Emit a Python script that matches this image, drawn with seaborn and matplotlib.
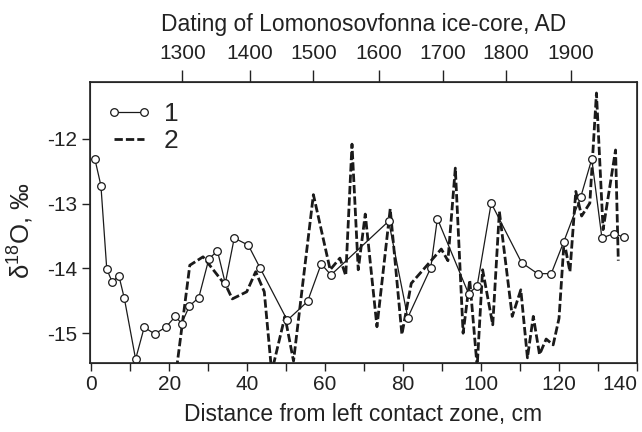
import matplotlib
matplotlib.use("Agg")
import matplotlib.pyplot as plt
import seaborn as sns
import pandas as pd
from matplotlib.ticker import MultipleLocator

# Series 1 (circles): distance (cm) and delta18O
s1_x = [0.95, 2.5, 4.0, 5.4, 7.1, 8.5, 11.4, 13.6, 16.3, 19.1, 21.6, 23.2, 25.2, 27.6,
        30.2, 32.4, 34.4, 36.7, 40.3, 43.3, 50.3, 55.5, 59.0, 61.5, 76.3, 81.2, 87.1,
        88.8, 96.8, 99.0, 102.6, 110.4, 114.5, 118.0, 121.2, 125.6, 128.4, 131.0,
        134.1, 136.7]
s1_y = [-12.31, -12.72, -14.01, -14.21, -14.11, -14.46, -15.40, -14.91, -15.01, -14.91,
        -14.74, -14.85, -14.58, -14.45, -13.85, -13.73, -14.23, -13.53, -13.64, -13.99,
        -14.80, -14.51, -13.93, -14.10, -13.27, -14.76, -13.99, -13.23, -14.39, -14.27,
        -12.99, -13.91, -14.08, -14.08, -13.59, -12.89, -12.31, -13.53, -13.46, -13.52]

# Series 2 (dashed)
s2_x = [21.9, 25.3, 28.7, 34.7, 36.2, 39.9, 42.2, 44.4, 46.3, 49.7, 51.9, 57.0, 61.3,
        63.8, 65.3, 66.9, 68.5, 70.3, 73.3, 76.7, 79.7, 82.1, 89.8, 91.5, 93.4, 95.4,
        97.1, 99.0, 100.4, 103.0, 104.7, 108.0, 110.2, 111.9, 113.4, 115.0, 116.7,
        118.5, 120.0, 121.3, 122.8, 124.3, 125.8, 127.9, 129.6, 131.3, 134.5, 135.2]
s2_y = [-15.55, -13.95, -13.82, -14.28, -14.47, -14.36, -14.05, -14.36, -15.60, -14.74,
        -15.43, -12.86, -14.02, -13.84, -14.11, -12.08, -14.02, -13.16, -14.90, -13.08,
        -15.02, -14.23, -13.70, -13.88, -12.45, -15.00, -14.18, -15.52, -14.02, -14.87,
        -13.12, -14.74, -14.33, -15.38, -14.74, -15.33, -15.09, -15.18, -14.77, -13.58,
        -14.05, -12.81, -13.19, -12.99, -11.29, -13.40, -12.17, -13.88]

# Top axis (dating) tick positions in cm and their years
top_tick_cm = [23.4, 40.8, 57.0, 73.7, 90.2, 106.3, 123.1]
top_tick_years = ["1300", "1400", "1500", "1600", "1700", "1800", "1900"]

y_ticks = [-12, -13, -14, -15]
x_ticks = [0, 20, 40, 60, 80, 100, 120, 140]

sns.set_style("ticks")
plt.rcParams['font.family'] = ['Liberation Sans', 'DejaVu Sans']
plt.rcParams['mathtext.fontset'] = 'custom'
plt.rcParams['mathtext.rm'] = 'Liberation Sans'

INK = "#222222"
fig = plt.figure(figsize=(6.42, 4.32), dpi=100)
ax = fig.add_axes([90/642, 1 - 363/432, (637 - 90)/642, (363 - 82)/432])

df1 = pd.DataFrame({"x": s1_x, "y": s1_y})
df2 = pd.DataFrame({"x": s2_x, "y": s2_y})

sns.lineplot(data=df2, x="x", y="y", ax=ax, color="#1a1a1a", linewidth=2.0,
             linestyle=(0, (3.0, 1.1)), estimator=None, sort=False, label="2")
sns.lineplot(data=df1, x="x", y="y", ax=ax, color="#1a1a1a", linewidth=0.9,
             marker="o", markersize=5.5, markerfacecolor="white",
             markeredgecolor="#1a1a1a", markeredgewidth=0.9,
             estimator=None, sort=False, label="1")

ax.set_xlim(-0.3, 140)
ax.set_ylim(-15.46, -11.12)
ax.set_xticks(x_ticks)
ax.set_xticklabels([str(v) for v in x_ticks])
ax.xaxis.set_minor_locator(MultipleLocator(10))
ax.set_yticks(y_ticks)
ax.set_yticklabels([str(v) for v in y_ticks])
ax.tick_params(axis='both', which='major', labelsize=15, direction='out',
               length=6, width=1.0, color=INK, labelcolor=INK)
ax.tick_params(axis='x', which='minor', direction='out', length=6, width=1.0,
               color=INK)
ax.tick_params(axis='y', pad=3)
ax.tick_params(axis='x', pad=3)
# keep the last bottom label inside the figure
ax.get_xticklabels()[-1].set_horizontalalignment('right')
ax.get_xticklabels()[-1].set_x(140)

ax.set_xlabel("Distance from left contact zone, cm", fontsize=16.5, color=INK,
              labelpad=6)
ax.set_ylabel(r"$\mathregular{δ^{18}}$O, ‰", fontsize=18.5, color=INK)
ax.yaxis.set_label_coords(-0.098, 0.47)
for sp in ax.spines.values():
    sp.set_visible(True)
    sp.set_linewidth(1.2)
    sp.set_color(INK)

ax2 = ax.twiny()
ax2.set_xlim(ax.get_xlim())
ax2.set_xticks(top_tick_cm)
ax2.set_xticklabels(top_tick_years)
ax2.tick_params(axis='x', direction='out', length=9, width=1.0, labelsize=15,
                color=INK, labelcolor=INK, pad=5)
ax2.set_xlabel("Dating of Lomonosovfonna ice-core, AD", fontsize=16.5,
               color=INK, labelpad=9)

handles, labels = ax.get_legend_handles_labels()
order = [labels.index("1"), labels.index("2")]
ax.legend([handles[i] for i in order], [labels[i] for i in order],
          loc="upper left", frameon=False, fontsize=19, numpoints=2,
          handlelength=1.75, handletextpad=0.45, labelspacing=0.12,
          borderaxespad=0.2, bbox_to_anchor=(0.0, 0.985))

fig.savefig("out.png", dpi=100)
